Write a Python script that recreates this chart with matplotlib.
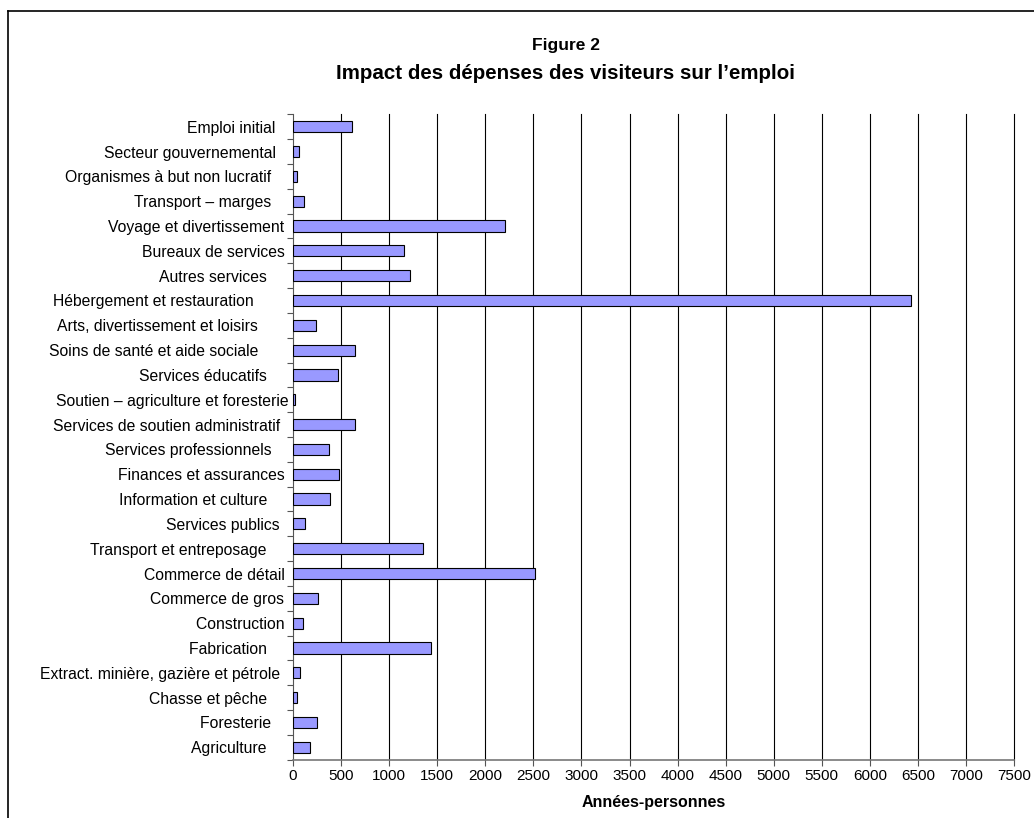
import matplotlib.pyplot as plt
from matplotlib.lines import Line2D

plt.rcParams['font.family'] = ['Liberation Sans', 'DejaVu Sans']

# categories from bottom to top (trailing spaces as in the source labels)
categories = [
    "Agriculture     ",
    "Foresterie    ",
    "Chasse et pêche     ",
    "Extract. minière, gazière et pétrole  ",
    "Fabrication     ",
    "Construction ",
    "Commerce de gros ",
    "Commerce de détail ",
    "Transport et entreposage     ",
    "Services publics  ",
    "Information et culture     ",
    "Finances et assurances ",
    "Services professionnels    ",
    "Services de soutien administratif  ",
    "Soutien – agriculture et foresterie",
    "Services éducatifs     ",
    "Soins de santé et aide sociale       ",
    "Arts, divertissement et loisirs       ",
    "Hébergement et restauration        ",
    "Autres services     ",
    "Bureaux de services ",
    "Voyage et divertissement ",
    "Transport – marges    ",
    "Organismes à but non lucratif    ",
    "Secteur gouvernemental   ",
    "Emploi initial   ",
]
values = [176, 252, 41, 76, 1435, 100, 263, 2520, 1349, 124, 387, 481, 377,
          645, 25, 470, 647, 239, 6425, 1214, 1152, 2200, 114, 38, 62, 609]
xticks = list(range(0, 7501, 500))

fig = plt.figure(figsize=(10.34, 8.18), dpi=100)
ax = fig.add_axes([0.2834, 0.0713, 0.6973, 0.789])

pos = list(range(len(categories)))
ax.barh(pos, values, height=0.45, color='#9999ff', edgecolor='black', linewidth=0.8, zorder=3)

ax.set_xlim(0, 7500)
ax.set_ylim(-0.5, len(categories) - 0.5)
ax.set_xticks(xticks)
ax.set_xticklabels([str(t) for t in xticks], fontsize=11)
for t in xticks[1:]:
    ax.axvline(t, color='black', linewidth=0.8, zorder=0, clip_on=False)

# category boundaries as major ticks, labels at centres
ax.set_yticks([p - 0.5 for p in range(len(categories) + 1)])
ax.set_yticklabels([])
ax.set_yticks(pos, minor=True)
ax.set_yticklabels(categories, minor=True, fontsize=11.3)
ax.tick_params(axis='y', which='minor', length=0, pad=3)
ax.tick_params(axis='y', which='major', length=4, color='#555555', direction='out')
ax.tick_params(axis='x', length=4, color='#555555', pad=3)

for s in ['top', 'right']:
    ax.spines[s].set_visible(False)
ax.spines['left'].set_color('#555555')
ax.spines['bottom'].set_color('#777777')
ax.spines['bottom'].set_linewidth(1.2)

ax.set_xlabel('Années-personnes', fontsize=11.5, fontweight='bold', labelpad=8)

fig.text(0.547, 0.944, 'Figure 2', ha='center', va='center', fontsize=12.5, fontweight='bold')
fig.text(0.547, 0.910, 'Impact des dépenses des visiteurs sur l’emploi', ha='center', va='center',
         fontsize=14.8, fontweight='bold')

# frame of the chart area
fig.add_artist(Line2D([0.0077, 0.0077], [0.0, 0.9866], color='black', linewidth=1.2, transform=fig.transFigure))
fig.add_artist(Line2D([0.0077, 1.0], [0.9866, 0.9866], color='black', linewidth=1.2, transform=fig.transFigure))

fig.savefig('out.png', dpi=100)
